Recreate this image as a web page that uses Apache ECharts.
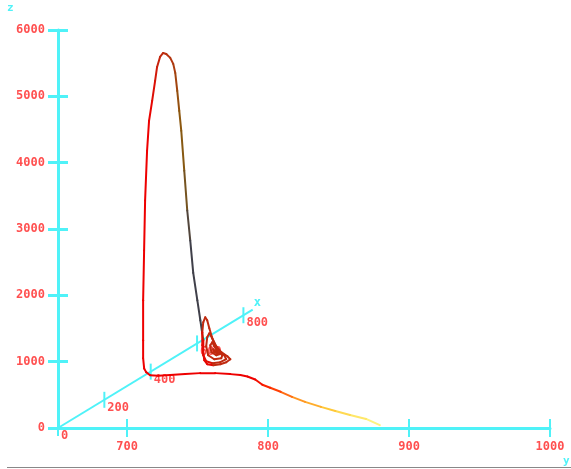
<!DOCTYPE html>
<html>
<head>
<meta charset="utf-8">
<script src="https://cdn.jsdelivr.net/npm/echarts@6/dist/echarts.min.js"></script>
<style>
  html, body { margin: 0; padding: 0; background: #fff; }
  #chart { width: 571px; height: 469px; }
</style>
</head>
<body>
<div id="chart"></div>
<script>
// trajectory (x, y, z) plus colour value c
const xs = [20, 64, 92, 120, 149, 184, 219, 255, 283, 304, 340, 361, 370, 370, 370, 370, 370, 370, 370, 370, 370,
  362, 360, 360, 360, 360, 360, 360, 360, 360, 360, 360, 360, 360,
  365, 370, 375, 380, 385, 390, 395, 400, 405, 410, 415, 420, 425, 430, 435,
  440, 440, 440, 440, 440, 440, 440, 440, 440, 440, 440, 440, 440, 440, 440, 440, 440, 440, 440, 440, 440, 440,
  440, 440, 440, 440, 440, 440, 440, 440, 440, 440, 440, 440, 440, 440, 440, 440, 440, 440, 440, 440, 440, 440]
const ys = [876, 859, 843, 828, 813, 796, 781, 767, 755, 746, 735, 726, 719.5, 712.4, 701.7, 691.0, 680.4, 669.7, 661.2, 655.5, 652.7,
  652.6, 652.2, 652.2, 652.2, 652.9, 653.6, 655.0, 656.4, 658.6, 660.7, 662.1, 664.2, 666.4,
  667.8, 669.8, 671.1, 671.7, 672.3, 672.9, 673.5, 674.8, 676.1, 677.4, 678.7, 680.8, 682.1, 682.6, 682.6,
  681.7, 682.4, 684.5, 688.8, 693.8, 698.0, 700.9, 698.8, 694.5, 690.9, 688.1, 686.0, 684.5, 683.1, 681.7, 681.0, 681.0, 681.7, 683.8, 688.1, 693.8, 698.0,
  696.6, 692.3, 689.5, 687.4, 686.0, 684.5, 683.8, 685.2, 689.5, 694.5, 695.2, 691.6, 689.5, 688.1, 686.7, 687.4, 690.9, 693.0, 690.2, 688.8, 689.5, 690.9]
const zs = [0, 1, 1, 2, 2, 3, 3, 4, 5, 6, 8, 10, 12, 26, 41, 41, 26, 11, 3, 10, 56,
  129, 287, 558, 1159, 1911, 2663, 3415, 3866, 4167, 4468, 4678, 4829, 4889,
  4863, 4793, 4692, 4546, 4265, 3953, 3642, 3030, 2418, 1956, 1457, 1033, 721, 515, 399,
  208, 87, 27, 12, 27, 57, 102, 147, 208, 298, 418, 568, 689, 734, 659, 508, 313, 162, 72, 42, 57, 102,
  162, 238, 343, 448, 493, 433, 298, 162, 102, 117, 162, 223, 298, 358, 313, 208, 162, 177, 223, 253, 208, 193]
const cs = [0.04, 0.12, 0.16, 0.2, 0.25, 0.31, 0.36, 0.42, 0.48, 0.53, 0.58, 0.62, 0.625, 0.625, 0.625, 0.625, 0.625, 0.625, 0.625, 0.625, 0.625,
  0.625, 0.625, 0.625, 0.625, 0.625, 0.625, 0.625, 0.625, 0.64, 0.67, 0.70, 0.73, 0.75,
  0.76, 0.77, 0.78, 0.80, 0.82, 0.85, 0.87, 0.88, 0.91, 0.97, 1, 1, 1, 1, 0.9,
  0.64, 0.64, 0.64, 0.64, 0.75, 0.75, 0.75, 0.75, 0.75, 0.75, 0.75, 0.75, 0.75, 0.75, 0.75, 0.75, 0.66, 0.66, 0.66, 0.66, 0.75, 0.75,
  0.75, 0.75, 0.75, 0.75, 0.75, 0.75, 0.75, 0.75, 0.75, 0.75, 0.75, 0.75, 0.75, 0.75, 0.75, 0.75, 0.75, 0.75, 0.75, 0.75, 0.75, 0.75]

// axes
const Y_MIN = 651
const Y_MAX = 1000
const yTicks = [700, 800, 900, 1000]
const zTicks = [0, 1000, 2000, 3000, 4000, 5000, 6000]
const X_MAX = 840
const xTicks = [0, 200, 400, 600, 800]

// oblique projection of the x (depth) axis onto the y/z plane
const KX = 0.1644
const KZ = 2.125

const AXIS = '#4ff2f8'
const LABEL = '#ff5050'
const FONT = 'DejaVu Sans Mono'

const proj = xs.map((x, i) => [ys[i] + x * KX, zs[i] + x * KZ, cs[i]])

const labelStyle = { color: LABEL, fontFamily: FONT, fontWeight: 'bold', fontSize: 12 }

const chart = echarts.init(document.getElementById('chart'))
chart.setOption({
  animation: false,
  grid: { left: 58, right: 21, top: 30, bottom: 41 },
  xAxis: [
    {
      type: 'value', min: Y_MIN, max: Y_MAX,
      axisLine: { lineStyle: { color: AXIS, width: 3 } },
      axisTick: { customValues: yTicks, length: 9, lineStyle: { color: AXIS, width: 2 } },
      axisLabel: Object.assign({ customValues: yTicks, margin: 13, formatter: v => String(v) }, labelStyle),
      splitLine: { show: false }
    },
    {
      type: 'value', min: Y_MIN, max: Y_MAX, position: 'bottom',
      axisLine: { show: false },
      axisTick: { inside: true, customValues: yTicks, length: 9, lineStyle: { color: AXIS, width: 2 } },
      axisLabel: { show: false },
      splitLine: { show: false }
    }
  ],
  yAxis: [
    {
      type: 'value', min: 0, max: 6000,
      axisLine: { show: true, lineStyle: { color: AXIS, width: 3 } },
      axisTick: { show: true, customValues: zTicks, length: 10, lineStyle: { color: AXIS, width: 3 } },
      axisLabel: Object.assign({ customValues: zTicks, margin: 13, formatter: v => String(v) }, labelStyle),
      splitLine: { show: false }
    },
    {
      type: 'value', min: 0, max: 6000, position: 'left',
      axisLine: { show: false },
      axisTick: { show: true, inside: true, customValues: zTicks, length: 10, lineStyle: { color: AXIS, width: 3 } },
      axisLabel: { show: false },
      splitLine: { show: false }
    }
  ],
  visualMap: {
    type: 'continuous', show: false, seriesIndex: 2, dimension: 2, min: 0, max: 1,
    inRange: { color: ['#fff4ec', '#fff37a', '#ffc838', '#ff9020', '#ff3000', '#ee0000', '#c02a10', '#8a5a10', '#40404a'] }
  },
  series: [
    {
      // depth axis
      type: 'line', symbol: 'none', silent: true, z: 2,
      data: [[Y_MIN, 0], [Y_MIN + X_MAX * KX, X_MAX * KZ]],
      lineStyle: { color: AXIS, width: 2 },
      endLabel: { show: true, formatter: 'x', color: AXIS, fontFamily: FONT, fontWeight: 'bold', fontSize: 12, distance: 1, offset: [0, -7] }
    },
    {
      type: 'scatter', symbol: 'rect', symbolSize: [2, 16], silent: true, z: 2,
      itemStyle: { color: AXIS, opacity: 1 },
      data: xTicks.map(t => [Y_MIN + t * KX, t * KZ, t]),
      label: Object.assign({
        show: true, position: 'right', distance: 2, offset: [0, 8],
        formatter: p => String(p.value[2])
      }, labelStyle)
    },
    {
      type: 'custom', z: 3, silent: true,
      data: proj,
      encode: { x: 0, y: 1 },
      renderItem: function (params, api) {
        const i = params.dataIndex
        if (i === 0) return
        const p0 = api.coord([proj[i - 1][0], proj[i - 1][1]])
        const p1 = api.coord([api.value(0), api.value(1)])
        return {
          type: 'line',
          shape: { x1: p0[0], y1: p0[1], x2: p1[0], y2: p1[1] },
          style: { stroke: api.visual('color'), lineWidth: 2, lineCap: 'round' }
        }
      }
    }
  ],
  graphic: [
    { type: 'text', left: 7, top: 3, style: { text: 'z', fill: AXIS, font: 'bold 11px DejaVu Sans Mono' } },
    { type: 'text', left: 563, top: 456, style: { text: 'y', fill: AXIS, font: 'bold 11px DejaVu Sans Mono' } },
    { type: 'line', shape: { x1: 7, y1: 467.5, x2: 571, y2: 467.5 }, style: { stroke: '#888', lineWidth: 1 } }
  ]
})
</script>
</body>
</html>
